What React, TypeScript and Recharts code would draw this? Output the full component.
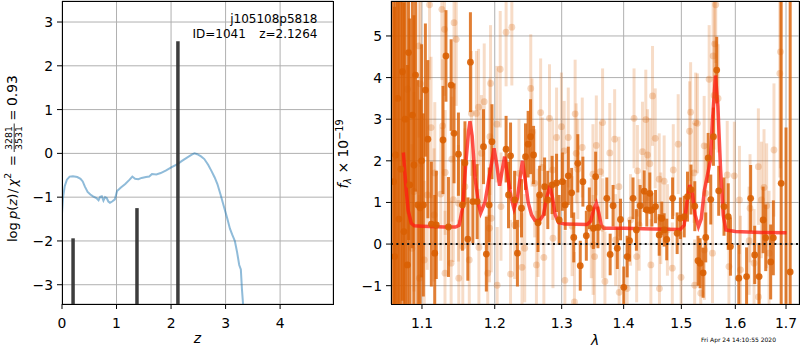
import React from "react";
import { ComposedChart, Line, Scatter, ErrorBar, XAxis, YAxis, CartesianGrid, ReferenceLine } from "recharts";

// p(z) curve, left panel
const zGrid = [0, 0.02, 0.05, 0.09, 0.14, 0.2, 0.28, 0.34, 0.38, 0.42, 0.47, 0.52, 0.57, 0.63, 0.67, 0.7, 0.73, 0.76, 0.79, 0.82, 0.85, 0.88, 0.92, 0.97, 1.01, 1.08, 1.16, 1.24, 1.29, 1.34, 1.4, 1.46, 1.54, 1.6, 1.65, 1.73, 1.81, 1.91, 2.02, 2.11, 2.2, 2.3, 2.38, 2.43, 2.48, 2.55, 2.61, 2.68, 2.74, 2.8, 2.85, 2.91, 2.97, 3.03, 3.08, 3.12, 3.17, 3.21, 3.25, 3.28, 3.3, 3.33];
const logPz = [-1.37, -1.0, -0.75, -0.6, -0.53, -0.52, -0.54, -0.58, -0.64, -0.76, -0.88, -0.94, -0.98, -1.02, -1.07, -0.99, -0.98, -1.08, -1.0, -1.02, -1.1, -1.13, -1.1, -1.05, -0.86, -0.78, -0.7, -0.6, -0.53, -0.58, -0.59, -0.56, -0.54, -0.53, -0.47, -0.48, -0.45, -0.39, -0.31, -0.25, -0.17, -0.09, -0.03, 0.0, -0.02, -0.07, -0.13, -0.26, -0.4, -0.55, -0.7, -0.95, -1.22, -1.48, -1.72, -1.85, -2.0, -2.25, -2.55, -2.65, -3.1, -3.6];
const peakZ = [0.203, 1.375, 2.126];
const peakLogP = [-1.94, -1.25, 2.56];

// best-fit model, right panel
const modelLam = [1.0758, 1.079, 1.082, 1.086, 1.09, 1.1, 1.13, 1.145, 1.15, 1.155, 1.159, 1.163, 1.165, 1.168, 1.172, 1.177, 1.18, 1.186, 1.192, 1.199, 1.203, 1.207, 1.211, 1.2143, 1.219, 1.224, 1.228, 1.233, 1.237, 1.2404, 1.244, 1.249, 1.254, 1.259, 1.266, 1.272, 1.2775, 1.2817, 1.286, 1.29, 1.295, 1.305, 1.34, 1.346, 1.351, 1.355, 1.359, 1.363, 1.367, 1.4, 1.45, 1.498, 1.505, 1.51, 1.5152, 1.52, 1.525, 1.531, 1.536, 1.542, 1.549, 1.553, 1.557, 1.5625, 1.567, 1.572, 1.577, 1.582, 1.6, 1.65, 1.701];
const modelFlux = [2.2, 1.4, 0.8, 0.5, 0.44, 0.43, 0.41, 0.41, 0.45, 0.9, 1.9, 2.7, 2.95, 2.6, 1.6, 0.95, 0.75, 1.0, 1.6, 2.3, 1.9, 1.4, 1.8, 2.1, 1.6, 1.1, 0.85, 1.1, 1.6, 2.0, 1.6, 1.0, 0.7, 0.57, 0.56, 0.7, 1.15, 1.4, 1.1, 0.7, 0.52, 0.48, 0.47, 0.55, 0.85, 0.98, 0.75, 0.45, 0.38, 0.38, 0.36, 0.35, 0.45, 1.0, 1.42, 1.2, 0.7, 0.42, 0.6, 1.3, 1.75, 2.0, 3.0, 4.05, 3.3, 1.8, 0.7, 0.34, 0.3, 0.28, 0.27];

// [lambda, flux, err]
const darkPoints: [number, number, number][] = [
  [1.0632, 1.5, 6], [1.0645, -0.3, 6], [1.066, 2.14, 6], [1.0685, 3.5, 6], [1.07, 0.6, 5.5], [1.0725, 1.8, 6],
  [1.0745, 4.14, 5.5], [1.0765, 0.3, 5.5], [1.078, 3.0, 4.5], [1.081, -0.5, 4.8], [1.0825, 4.6, 4.5],
  [1.084, 1.42, 4.0], [1.0875, 3.1, 3.2], [1.0895, 1.9, 3.6], [1.0916, 4.06, 2.8], [1.0946, 0.94, 3.0], [1.0975, 0.87, 2.6],
  [1.0995, 2.0, 2.8], [1.1018, 0.94, 2.2],
  [1.1045, 3.7, 1.6], [1.1078, 2.52, 1.9], [1.1124, 0.48, 1.5], [1.1169, -0.22, 1.4], [1.119, 0.46, 1.3], [1.128, 2.5, 1.3],
  [1.132, 4.52, 1.1], [1.1354, 0.41, 1.2], [1.139, 3.82, 1.1], [1.143, 2.66, 1.2], [1.149, 2.16, 1.0], [1.1545, 0.94, 1.1],
  [1.158, 1.95, 1.0], [1.162, 0.12, 1.0], [1.1656, 4.37, 1.2], [1.169, 1.02, 1.0], [1.175, 1.02, 0.9], [1.184, 2.34, 0.9],
  [1.188, -0.24, 0.9], [1.192, 0.94, 0.9], [1.196, 2.46, 0.9], [1.2164, 2.28, 0.8], [1.2199, 1.18, 0.8], [1.2229, 2.12, 0.8],
  [1.2289, 1.06, 0.7], [1.233, -0.22, 0.8], [1.239, 0.86, 0.7], [1.245, 2.1, 0.8], [1.2489, 2.4, 0.8], [1.2525, 2.58, 0.9],
  [1.257, 2.14, 0.7], [1.2637, 0.51, 0.7], [1.2662, 1.18, 0.7], [1.2737, 1.38, 0.7], [1.2786, 1.06, 0.7], [1.2852, 1.42, 0.7],
  [1.2921, 1.47, 0.7], [1.2961, 0.58, 0.6], [1.3011, 1.5, 0.7], [1.3055, 0.94, 0.6], [1.3103, 1.64, 0.7], [1.3156, 1.23, 0.6],
  [1.3189, 0.16, 0.6], [1.3253, 1.94, 0.7], [1.3292, -0.52, 0.6], [1.3334, 1.5, 0.6], [1.3389, 0.2, 0.6], [1.3437, 0.86, 0.5],
  [1.3502, 0.38, 0.5], [1.3539, 1.62, 0.6], [1.3576, 0.4, 0.5], [1.3721, 1.1, 0.5], [1.3776, -0.25, 0.5], [1.3824, 0.92, 0.5],
  [1.3894, -0.1, 0.5], [1.3947, 0.59, 0.5], [1.4002, -1.04, 0.5], [1.4059, -0.3, 0.5], [1.4099, 0.08, 0.5], [1.4158, 1.1, 0.5],
  [1.4215, 0.34, 0.5], [1.4279, 0.92, 0.5], [1.4349, 1.27, 0.5], [1.4393, 0.82, 0.4], [1.4445, 1.22, 0.5], [1.448, 0.82, 0.4],
  [1.4544, 0.9, 0.4], [1.4608, 0.22, 0.5], [1.4653, 0.62, 0.4], [1.4695, 0.34, 0.4], [1.474, 0.11, 0.5], [1.4844, 1.1, 0.5],
  [1.4925, 0.26, 0.5], [1.4983, 0.62, 0.5], [1.5052, 0.66, 0.5], [1.5111, 1.14, 0.6], [1.5174, 1.31, 0.6], [1.5243, 0.91, 0.6],
  [1.5302, -0.4, 0.6], [1.534, -0.46, 0.6], [1.5396, -0.69, 0.6], [1.5444, 0.16, 0.6], [1.5489, 2.07, 0.6], [1.5537, 1.07, 0.6],
  [1.5587, 2.58, 0.7], [1.5648, 4.18, 0.8], [1.5685, 1.28, 0.6], [1.5785, 0.9, 0.7], [1.5865, 0.66, 0.8], [1.5907, -0.06, 0.7],
  [1.6067, -0.82, 0.8], [1.6217, -0.78, 0.7], [1.6296, 1.1, 0.8], [1.6375, -0.26, 0.7], [1.6462, -0.78, 0.8], [1.6541, 0.58, 0.8],
  [1.6592, 0.15, 0.8], [1.6691, -0.43, 0.9], [1.6744, 0.15, 0.9], [1.6902, 1.46, 5.0], [1.7, -2.0, 4.8], [1.7085, -0.67, 6.5],
];

const lightPoints: [number, number, number][] = [
  [1.081, 3.72, 3.0], [1.087, -0.1, 2.5], [1.0896, 1.26, 2.4], [1.096, 4.76, 2.2], [1.0966, -0.82, 2.0], [1.098, 3.85, 2.0],
  [1.103, -0.38, 1.9], [1.107, 1.18, 1.8], [1.11, 5.75, 1.8], [1.112, 2.8, 1.7], [1.116, 0.7, 1.6], [1.117, 1.71, 1.7],
  [1.125, 1.2, 1.6], [1.1265, 5.64, 1.7], [1.1275, 2.84, 1.6], [1.13, 5.16, 1.6], [1.1307, -0.7, 1.5], [1.131, 1.72, 1.5],
  [1.139, -0.46, 1.5], [1.14, 2.04, 1.5], [1.142, 1.07, 1.5], [1.143, 5.32, 1.6], [1.146, 4.92, 1.6], [1.149, 0.98, 1.4],
  [1.1495, -0.82, 1.4], [1.155, -0.06, 1.4], [1.158, 1.38, 1.4], [1.164, -0.38, 1.5], [1.167, 3.14, 1.5], [1.174, 3.14, 1.5],
  [1.177, 3.29, 1.4], [1.1775, -0.08, 1.4], [1.181, 2.18, 1.4], [1.185, 3.42, 1.4], [1.19, -0.7, 1.4], [1.193, 2.58, 1.4],
  [1.1925, 0.38, 1.3], [1.194, 3.86, 1.4], [1.195, 0.62, 1.3], [1.203, 2.88, 1.4], [1.2035, -0.99, 1.4], [1.2079, 4.2, 1.4],
  [1.209, 0.9, 1.3], [1.2164, 5.09, 1.3], [1.2229, -0.72, 1.3], [1.2248, 5.21, 1.4], [1.2289, 0.46, 1.3], [1.2353, 1.7, 1.3],
  [1.2398, -0.56, 1.3], [1.2438, -0.1, 1.3], [1.2528, 3.74, 1.3], [1.2547, 2.68, 1.3], [1.2587, 1.46, 1.3], [1.2613, -0.5, 1.3],
  [1.2637, 0.51, 1.3], [1.2677, 3.16, 1.3], [1.2703, 1.84, 1.2], [1.2726, -0.32, 1.3], [1.2812, 3.02, 1.3], [1.2861, 1.78, 1.2],
  [1.2865, 0.14, 1.2], [1.2921, 2.56, 1.2], [1.2996, 2.82, 1.3], [1.3039, 2.24, 1.2], [1.305, -0.87, 1.2], [1.3103, 2.56, 1.2],
  [1.3163, 0.43, 1.2], [1.32, -1.39, 1.2], [1.3211, 3.13, 1.3], [1.3227, 2.18, 1.2], [1.3253, 1.8, 1.2], [1.3324, 2.32, 1.2],
  [1.3469, 0.38, 1.2], [1.3495, 1.68, 1.2], [1.3498, -0.02, 1.2], [1.3522, -0.3, 1.2], [1.355, 2.37, 1.2], [1.3615, 1.74, 1.2],
  [1.3652, 2.92, 1.3], [1.3655, 0.38, 1.2], [1.369, -0.9, 1.2], [1.377, 2.19, 1.2], [1.385, 2.52, 1.2], [1.3866, 0.1, 1.1],
  [1.3921, 1.38, 1.2], [1.3925, -1.16, 1.1], [1.4059, -1.07, 1.1], [1.4116, 0.58, 1.1], [1.4175, 3.02, 1.2], [1.422, -0.3, 1.1],
  [1.4232, 1.76, 1.1], [1.4262, 0.46, 1.1], [1.4319, 2.22, 1.2], [1.4376, 2.99, 1.2], [1.4406, 2.14, 1.1], [1.4445, 1.93, 1.1],
  [1.4463, -0.5, 1.1], [1.4492, 3.56, 1.2], [1.4539, 2.54, 1.2], [1.4608, 1.56, 1.1], [1.4612, -1.07, 1.1], [1.4636, 0.62, 1.1],
  [1.4695, 1.51, 1.1], [1.4752, 0.34, 1.1], [1.4839, -0.58, 1.1], [1.4856, 1.78, 1.1], [1.4943, 2.4, 1.2], [1.4995, -0.8, 1.1],
  [1.5148, 2.71, 1.2], [1.5167, 3.17, 1.2], [1.523, 1.71, 1.2], [1.5241, -0.99, 1.1], [1.5259, 2.92, 1.2], [1.5291, 2.9, 1.2],
  [1.5352, -1.18, 1.2], [1.5415, 2.36, 1.2], [1.542, -0.14, 1.2], [1.5444, 1.22, 1.2], [1.5507, 3.96, 1.3], [1.5569, -0.22, 1.2],
  [1.5581, 4.52, 1.3], [1.56, 3.57, 1.3], [1.5611, 4.81, 1.3], [1.563, 5.75, 1.4], [1.5674, 3.5, 1.3], [1.5846, 1.66, 1.3],
  [1.5878, -0.54, 1.2], [1.5981, 1.64, 1.3], [1.6079, 1.06, 1.3], [1.6099, -0.62, 1.3], [1.6266, 0.08, 1.3], [1.6284, 0.86, 1.3],
  [1.6363, -0.46, 1.3], [1.6447, 1.86, 1.4], [1.645, -1.27, 1.3], [1.6507, 1.06, 1.4], [1.6559, 1.36, 1.4], [1.6611, 0.92, 1.5],
  [1.6659, -0.22, 1.5], [1.6757, 2.26, 1.6], [1.6875, 4.1, 2.5], [1.6887, 4.62, 2.8],
];

const zTicks = [0, 1, 2, 3, 4];
const logPTicks = [-3, -2, -1, 0, 1, 2, 3];
const lamTicks = [1.1, 1.2, 1.3, 1.4, 1.5, 1.6, 1.7];
const fluxTicks = [-1, 0, 1, 2, 3, 4, 5];

const Z_DOMAIN: [number, number] = [0, 4.97];
const LOGP_DOMAIN: [number, number] = [-3.44, 3.48];
const LAM_DOMAIN: [number, number] = [1.06, 1.7266];
const FLUX_DOMAIN: [number, number] = [-1.44, 5.84];

const FONT = "DejaVu Sans";
const ORANGE = "#d95f02";
const fmt = (v: number) => (v < 0 ? "\u2212" + Math.abs(v) : String(v));
const tickStyle = { fontSize: 13.9, fill: "#000", fontFamily: FONT };

const pzData = zGrid.map((z, i) => ({ x: z, y: logPz[i] }));
const peakData = peakZ.map((z, i) => ({ x: z, y: peakLogP[i], err: [peakLogP[i] - LOGP_DOMAIN[0], 0] }));
const modelData = modelLam.map((l, i) => ({ x: l, y: modelFlux[i] }));
const darkData = darkPoints.map(([l, f, e]) => ({ x: l, y: f, err: e }));
const lightData = lightPoints.map(([l, f, e]) => ({ x: l, y: f, err: e }));

const dot = (fill: string, op: number) => (p: any) => <circle cx={p.cx} cy={p.cy} r={3.4} fill={fill} fillOpacity={op} />;

// right panel is split: axes + grid below, data on top clipped to the plot box
const RIGHT_MARGIN = { top: 1, right: 1, bottom: 46, left: 61 };

const App = () => (
  <div style={{ position: "absolute", left: 0, top: 0, width: 800, height: 350, background: "#fff" }}>
    <div style={{ position: "absolute", left: 0, top: 0 }}>
      <ComposedChart width={340} height={350} margin={{ top: 1, right: 7, bottom: 0, left: 0 }}>
        <CartesianGrid stroke="#b0b0b0" />
        <XAxis type="number" dataKey="x" domain={Z_DOMAIN} allowDataOverflow ticks={zTicks} tickFormatter={fmt}
          height={46} tick={tickStyle} tickLine={{ stroke: "#000" }} tickSize={5} tickMargin={9} axisLine={false} />
        <YAxis type="number" dataKey="y" domain={LOGP_DOMAIN} allowDataOverflow ticks={logPTicks} tickFormatter={fmt}
          width={62} tick={tickStyle} tickLine={{ stroke: "#000" }} tickSize={5} tickMargin={4} axisLine={false} />
        <Line data={pzData} dataKey="y" dot={false} stroke="#1f77b4" strokeOpacity={0.5} strokeWidth={2} isAnimationActive={false} />
        <Scatter data={peakData} dataKey="y" shape={() => <g />} isAnimationActive={false}>
          <ErrorBar dataKey="err" direction="y" width={0} stroke="#333" strokeOpacity={0.95} strokeWidth={3.5} isAnimationActive={false} />
        </Scatter>
      </ComposedChart>
    </div>
    <div style={{ position: "absolute", left: 330, top: 0 }}>
      <ComposedChart width={470} height={350} margin={{ top: 1, right: 1, bottom: 0, left: 0 }}>
        <CartesianGrid stroke="#b0b0b0" />
        <XAxis type="number" dataKey="x" scale="log" domain={LAM_DOMAIN} allowDataOverflow ticks={lamTicks}
          height={46} tick={tickStyle} tickLine={{ stroke: "#000" }} tickSize={5} tickMargin={9} axisLine={false} />
        <YAxis type="number" dataKey="y" domain={FLUX_DOMAIN} allowDataOverflow ticks={fluxTicks} tickFormatter={fmt}
          width={61} tick={tickStyle} tickLine={{ stroke: "#000" }} tickSize={5} tickMargin={4} axisLine={false} />
      </ComposedChart>
    </div>
    <div style={{ position: "absolute", left: 330, top: 0, clipPath: "inset(1px 1px 46px 61px)" }}>
      <ComposedChart width={470} height={350} margin={RIGHT_MARGIN}>
        <XAxis type="number" dataKey="x" scale="log" domain={LAM_DOMAIN} allowDataOverflow hide />
        <YAxis type="number" dataKey="y" domain={FLUX_DOMAIN} allowDataOverflow hide />
        <Scatter data={lightData} dataKey="y" shape={dot(ORANGE, 0.25)} isAnimationActive={false}>
          <ErrorBar dataKey="err" direction="y" width={0} stroke={ORANGE} strokeOpacity={0.22} strokeWidth={3} isAnimationActive={false} />
        </Scatter>
        <Scatter data={darkData} dataKey="y" shape={dot(ORANGE, 0.9)} isAnimationActive={false}>
          <ErrorBar dataKey="err" direction="y" width={0} stroke={ORANGE} strokeOpacity={0.8} strokeWidth={3} isAnimationActive={false} />
        </Scatter>
        <Line data={modelData} dataKey="y" dot={false} stroke="#ff1a10" strokeOpacity={0.75} strokeWidth={3.5} isAnimationActive={false} />
        <ReferenceLine y={0} stroke="#111" strokeWidth={2} strokeDasharray="2 3.4" />
      </ComposedChart>
    </div>
    <svg width={800} height={350} style={{ position: "absolute", left: 0, top: 0, pointerEvents: "none" }}
      fontFamily={FONT}>
      <rect x={62} y={1} width={271} height={303} fill="none" stroke="#000" shapeRendering="crispEdges" />
      <rect x={391} y={1} width={408} height={303} fill="none" stroke="#000" shapeRendering="crispEdges" />
      <text x={317.5} y={23} fontSize={12} textAnchor="end">j105108p5818</text>
      <text x={192.5} y={37.7} fontSize={12}>ID=1041</text>
      <text x={317.5} y={37.7} fontSize={12} textAnchor="end">z=2.1264</text>
      <text x={197.5} y={343} fontSize={13.9} fontStyle="italic" textAnchor="middle">z</text>
      <text x={595} y={345} fontSize={13.9} fontStyle="italic" textAnchor="middle">λ</text>
      <text x={701} y={342} fontSize={6}>Fri Apr 24 14:10:55 2020</text>
      <g transform="rotate(-90)" fontSize={13}>
        <text x={-242} y={16.5}>log</text>
        <text x={-219} y={16.5}><tspan fontStyle="italic">p</tspan>(<tspan fontStyle="italic">z</tspan>)</text>
        <text x={-193} y={16.5}>/</text>
        <text x={-186.5} y={16.5}><tspan fontStyle="italic">χ</tspan><tspan fontSize={9.2} dy={-5.5}>2</tspan></text>
        <text x={-166} y={16.5}>=</text>
        <text x={-138} y={12.3} fontSize={9.4} textAnchor="middle">3281</text>
        <line x1={-152} x2={-123.5} y1={14.2} y2={14.2} stroke="#000" strokeWidth={0.8} />
        <text x={-138} y={21.6} fontSize={9.4} textAnchor="middle">3531</text>
        <text x={-120.5} y={16.5}>=</text>
        <text x={-106} y={16.5} fontSize={13.9}>0.93</text>
        <text x={-154} y={348} fontSize={13.9} textAnchor="middle">
          <tspan fontStyle="italic">f</tspan>
          <tspan fontSize={9.7} fontStyle="italic" dy={3}>λ</tspan>
          <tspan dy={-3}> × 10</tspan>
          <tspan fontSize={9.7} dy={-5.5}>−19</tspan>
        </text>
      </g>
    </svg>
  </div>
);

export default App;
